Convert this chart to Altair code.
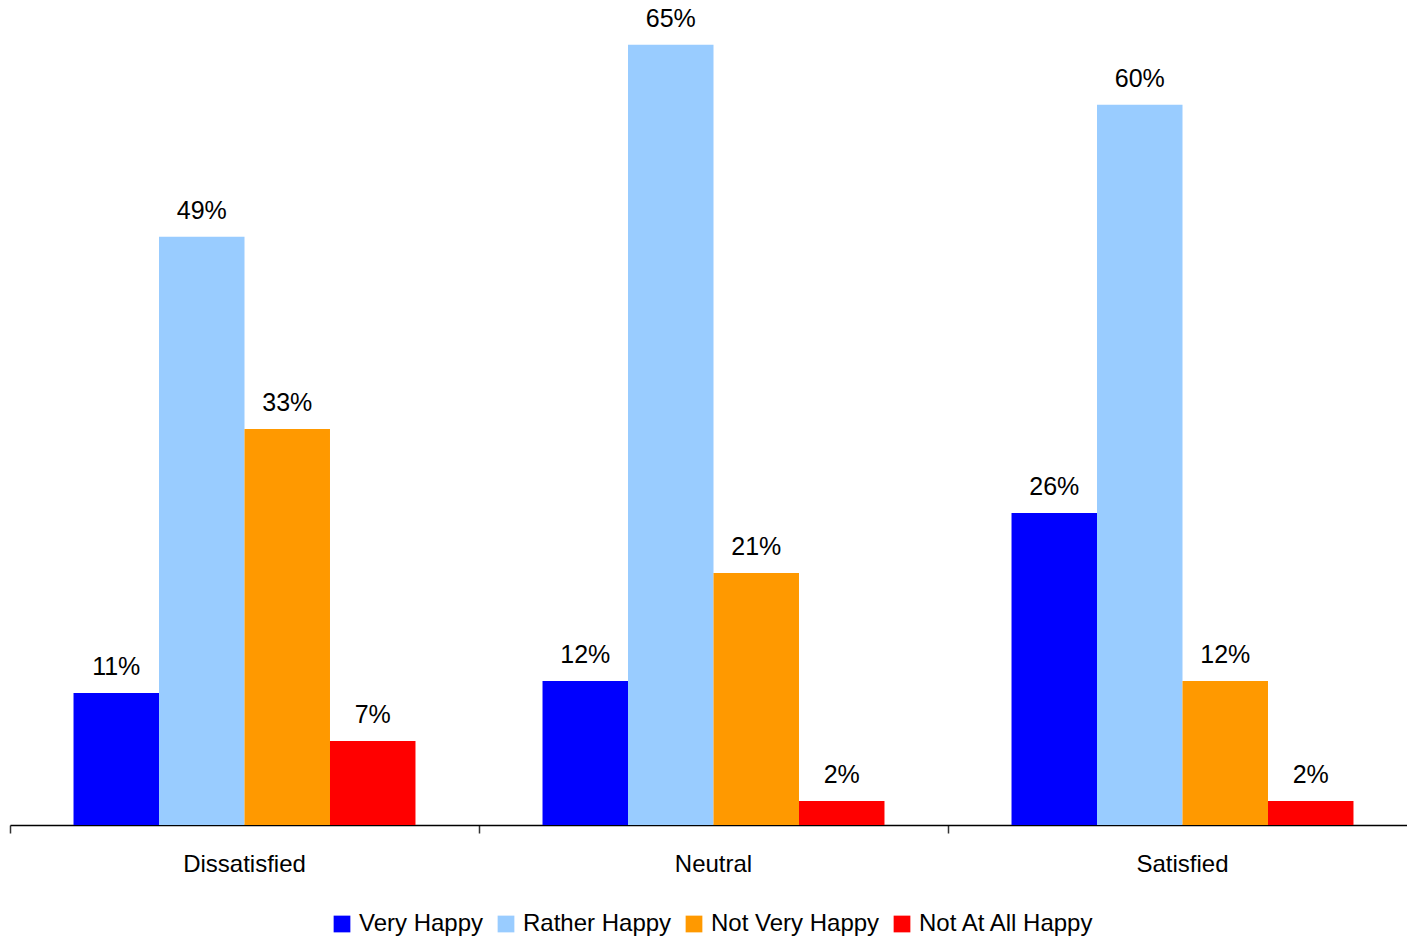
import altair as alt
import pandas as pd

categories = ["Dissatisfied", "Neutral", "Satisfied"]
series = ["Very Happy", "Rather Happy", "Not Very Happy", "Not At All Happy"]
colors = ["#0000FF", "#99CCFF", "#FF9900", "#FF0000"]
very_happy = [11, 12, 26]
rather_happy = [49, 65, 60]
not_very_happy = [33, 21, 12]
not_at_all_happy = [7, 2, 2]

rows = []
for s, vals in zip(series, [very_happy, rather_happy, not_very_happy, not_at_all_happy]):
    for c, v in zip(categories, vals):
        rows.append({"category": c, "series": s, "value": v, "label": f"{v}%"})
df = pd.DataFrame(rows)

FONT = "Liberation Sans"

base = alt.Chart(df).encode(
    x=alt.X("category:N", sort=categories, title=None,
            scale=alt.Scale(paddingInner=0, paddingOuter=0, range=[0, 1407]),
            axis=alt.Axis(labelAngle=0, labelFontSize=24, labelFont=FONT, labelColor="#000000",
                          labelPadding=19, tickSize=8, tickColor="#333333", tickWidth=1.5,
                          domainColor="#000000", domainWidth=1.5, bandPosition=0,
                          grid=False)),
    xOffset=alt.XOffset("series:N", sort=series,
                        scale=alt.Scale(paddingInner=0, paddingOuter=0.743)),
)

bars = base.mark_bar().encode(
    y=alt.Y("value:Q", scale=alt.Scale(domain=[0, 67.9], nice=False), axis=None, title=None),
    color=alt.Color("series:N", sort=series,
                    scale=alt.Scale(domain=series, range=colors),
                    legend=alt.Legend(title=None, orient="none", direction="horizontal",
                                      legendX=320, legendY=902, padding=0,
                                      symbolType="square", symbolSize=280, symbolStrokeWidth=0,
                                      symbolOpacity=1, labelLimit=400,
                                      labelFontSize=24, labelFont=FONT, labelColor="#000000",
                                      labelOffset=5, columnPadding=10)),
)

texts = base.mark_text(baseline="alphabetic", dy=-18, fontSize=25, font=FONT, color="#000000").encode(
    y=alt.Y("value:Q"),
    text="label:N",
)

chart = (bars + texts).properties(
    width=1397, height=815,
    padding={"left": 2, "top": 2, "right": 0, "bottom": 113},
    autosize=alt.AutoSizeParams(type="none"),
).configure_view(stroke=None)

chart.save("out.html", embed_options={"renderer": "svg", "actions": False})
